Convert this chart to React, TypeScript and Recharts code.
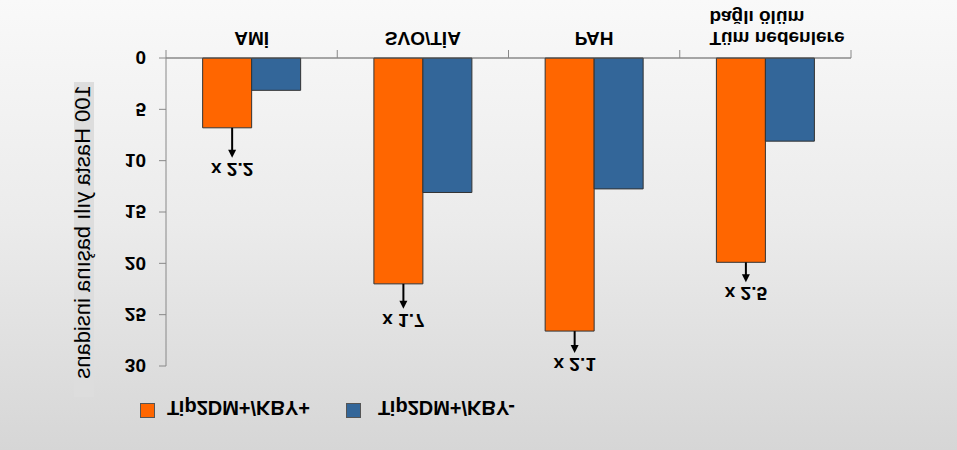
import React from 'react';
import { BarChart, Bar, XAxis, YAxis, LabelList } from 'recharts';

const categories = ['AMİ', 'SVO/TİA', 'PAH', 'Tüm nedenlere\nbağlı ölüm'];
const seriesNames = ['Tip2DM+/KBY+', 'Tip2DM+/KBY-'];
const kbyPositive = [6.8, 22.0, 26.6, 19.9];
const kbyNegative = [3.15, 13.1, 12.75, 8.1];
const ratioLabels = ['x 2.2', 'x 1.7', 'x 2.1', 'x 2.5'];
const yTicks = [0, 5, 10, 15, 20, 25, 30];
const yAxisTitle = '100 Hasta yılı başına insidans';

const ORANGE = '#FF6600';
const BLUE = '#336699';
const FONT = '"Liberation Sans", Arial, sans-serif';
const W = 957;
const H = 450;
const MARGIN = { top: 84, right: 106, bottom: 0, left: 0 };
const Y_AXIS_W = 166;
const X_AXIS_H = 58;
const BAND = (W - MARGIN.left - MARGIN.right - Y_AXIS_W) / categories.length;
const ARROW_LEN = [30, 25, 22, 20];

const data = categories.map((name, i) => ({
  name,
  pos: kbyPositive[i],
  neg: kbyNegative[i],
  ratio: ratioLabels[i],
}));

function CategoryTick(props: any) {
  const { x, y, payload } = props;
  const value = String(payload.value);
  const idx = categories.indexOf(value);
  const lines = value.split('\n');
  const multi = lines.length > 1;
  const tx = multi ? x - 56 : x;
  return (
    <g>
      <line x1={x - BAND / 2} x2={x - BAND / 2} y1={y - 8} y2={y} stroke="#888" strokeWidth={1} />
      {idx === categories.length - 1 && (
        <line x1={x + BAND / 2} x2={x + BAND / 2} y1={y - 8} y2={y} stroke="#888" strokeWidth={1} />
      )}
      <text
        x={tx}
        y={y + 18}
        textAnchor={multi ? 'start' : 'middle'}
        fontFamily={FONT}
        fontSize={19}
        fontWeight="bold"
        fill="#000"
      >
        {lines.map((l, i) => (
          <tspan key={i} x={tx} dy={i === 0 ? 0 : 21}>
            {l}
          </tspan>
        ))}
      </text>
    </g>
  );
}

function RatioLabel(props: any) {
  const vb = props.viewBox || {};
  const bx = vb.x ?? props.x;
  const by = vb.y ?? props.y;
  const bw = vb.width ?? props.width;
  const bh = vb.height ?? props.height;
  const index = props.index ?? 0;
  if (bx == null || by == null) return null;
  const top = Math.min(by, by + bh);
  const cx = bx + bw / 2 + 5;
  const len = ARROW_LEN[index] ?? 24;
  const tip = top - len;
  return (
    <g>
      <line x1={cx} x2={cx} y1={top} y2={tip + 6} stroke="#000" strokeWidth={2} />
      <polygon points={`${cx},${tip} ${cx - 4},${tip + 8} ${cx + 4},${tip + 8}`} fill="#000" />
      <text
        x={cx}
        y={tip - 5}
        textAnchor="middle"
        fontFamily={FONT}
        fontSize={19}
        fontWeight="bold"
        fill="#000"
      >
        {props.value}
      </text>
    </g>
  );
}

function LegendBox() {
  const items = [
    { name: seriesNames[0], color: ORANGE, sq: 140, tx: 167 },
    { name: seriesNames[1], color: BLUE, sq: 346, tx: 378 },
  ];
  return (
    <>
      {items.map((it) => (
        <React.Fragment key={it.name}>
          <div
            style={{
              position: 'absolute',
              left: it.sq,
              top: 32,
              width: 15,
              height: 15,
              boxSizing: 'border-box',
              border: '1px solid #555',
              background: it.color,
            }}
          />
          <div
            style={{
              position: 'absolute',
              left: it.tx,
              top: 32,
              height: 20,
              lineHeight: '20px',
              fontFamily: FONT,
              fontSize: 20,
              fontWeight: 'bold',
              color: '#000',
              whiteSpace: 'nowrap',
            }}
          >
            {it.name}
          </div>
        </React.Fragment>
      ))}
    </>
  );
}

export default function App() {
  return (
    <div
      style={{
        position: 'absolute',
        left: 0,
        top: 0,
        width: W,
        height: H,
        overflow: 'hidden',
        background: 'linear-gradient(to bottom, #f9f9f9 0%, #ebebeb 50%, #d6d6d6 100%)',
      }}
    >
      <div style={{ position: 'absolute', left: 74, top: 82, width: 20, height: 315, background: '#dddddd' }} />
      <div style={{ position: 'absolute', left: 0, top: 0, width: W, height: H, transform: 'scaleY(-1)' }}>
        <BarChart
          width={W}
          height={H}
          data={data}
          margin={MARGIN}
          barCategoryGap="21.4%"
          barGap={0}
        >
          <XAxis
            dataKey="name"
            type="category"
            height={X_AXIS_H}
            interval={0}
            tickSize={8}
            tickMargin={0}
            tickLine={false}
            axisLine={{ stroke: '#555', strokeWidth: 1 }}
            tick={<CategoryTick />}
          />
          <YAxis
            type="number"
            domain={[0, 30]}
            ticks={yTicks}
            interval={0}
            width={Y_AXIS_W}
            tickSize={7}
            tickMargin={13}
            axisLine={{ stroke: '#888', strokeWidth: 1 }}
            tickLine={{ stroke: '#888', strokeWidth: 1 }}
            tick={{ fill: '#000', fontSize: 19, fontWeight: 'bold', fontFamily: FONT }}
            label={() => (
              <text
                x={90}
                y={218}
                transform="rotate(-90 90 218)"
                textAnchor="middle"
                fontFamily={FONT}
                fontSize={22}
                fill="#000"
              >
                {yAxisTitle}
              </text>
            )}
          />
          <Bar dataKey="pos" name={seriesNames[0]} fill={ORANGE} stroke="#333" strokeWidth={1} isAnimationActive={false}>
            <LabelList dataKey="ratio" content={<RatioLabel />} />
          </Bar>
          <Bar dataKey="neg" name={seriesNames[1]} fill={BLUE} stroke="#333" strokeWidth={1} isAnimationActive={false} />
        </BarChart>
        <LegendBox />
      </div>
    </div>
  );
}
